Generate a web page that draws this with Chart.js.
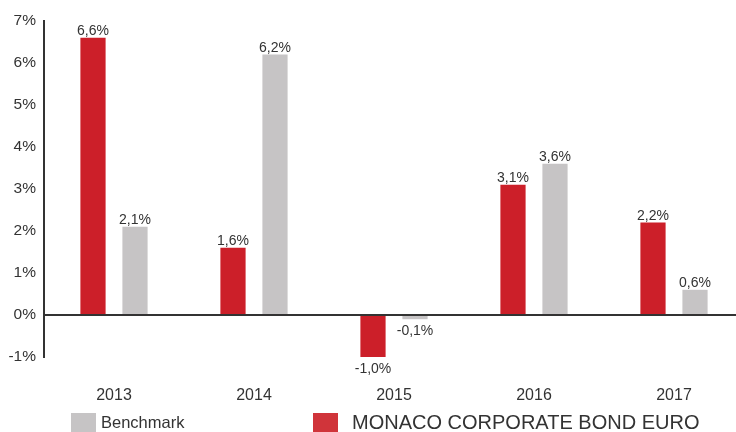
<!DOCTYPE html>
<html>
<head>
<meta charset="utf-8">
<script src="https://cdn.jsdelivr.net/npm/chart.js@4/dist/chart.umd.min.js"></script>
<style>
  html, body { margin: 0; padding: 0; background: #fff; overflow: hidden; }
  #wrap { width: 736px; height: 432px; overflow: hidden; }
</style>
</head>
<body>
<div id="wrap"><canvas id="chart" width="745" height="432"></canvas></div>
<script>
const years = ["2013", "2014", "2015", "2016", "2017"];
const fundValues = [6.6, 1.6, -1.0, 3.1, 2.2];
const benchmarkValues = [2.1, 6.2, -0.1, 3.6, 0.6];
const yTicks = [-1, 0, 1, 2, 3, 4, 5, 6, 7];

const RED = "#cc1f29";
const GRAY = "#c6c4c5";
const TEXT = "#333333";
const FONT = "'Liberation Sans', Arial, sans-serif";

// formats 6.6 -> "6,6%"
function fmt(v) {
    return v.toFixed(1).replace(".", ",") + "%";
}

// value labels above / below bars
const valueLabels = {
    id: "valueLabels",
    afterDatasetsDraw(chart) {
        const ctx = chart.ctx;
        ctx.save();
        ctx.font = "14px " + FONT;
        ctx.fillStyle = TEXT;
        ctx.textAlign = "center";
        chart.data.datasets.forEach((ds, i) => {
            const meta = chart.getDatasetMeta(i);
            meta.data.forEach((bar, j) => {
                const v = ds.data[j];
                if (v >= 0) {
                    ctx.textBaseline = "alphabetic";
                    ctx.fillText(fmt(v), bar.x, bar.y - 3);
                } else {
                    ctx.textBaseline = "top";
                    ctx.fillText(fmt(v), bar.x, bar.y + 5);
                }
            });
        });
        ctx.restore();
    },
};

// bottom legend, benchmark first, fund name larger
const bottomLegend = {
    id: "bottomLegend",
    afterDraw(chart) {
        const ctx = chart.ctx;
        const ds = chart.data.datasets;
        const items = [
            { label: ds[1].label, color: GRAY, x: 71, size: 16.5, gap: 30 },
            { label: ds[0].label, color: "#d0343a", x: 313, size: 20, gap: 39 },
        ];
        ctx.save();
        ctx.textBaseline = "middle";
        ctx.textAlign = "left";
        items.forEach((it) => {
            ctx.fillStyle = it.color;
            ctx.fillRect(it.x, 413, 25, 20);
            ctx.fillStyle = TEXT;
            ctx.font = it.size + "px " + FONT;
            ctx.fillText(it.label, it.x + it.gap, 423);
        });
        ctx.restore();
    },
};

new Chart(document.getElementById("chart"), {
    type: "bar",
    data: {
        labels: years,
        datasets: [
            {
                label: "MONACO CORPORATE BOND EURO",
                data: fundValues,
                backgroundColor: RED,
                categoryPercentage: 0.6,
                barPercentage: 0.6,
            },
            {
                label: "Benchmark",
                data: benchmarkValues,
                backgroundColor: GRAY,
                categoryPercentage: 0.6,
                barPercentage: 0.6,
            },
        ],
    },
    options: {
        responsive: false,
        devicePixelRatio: 1,
        animation: false,
        layout: { padding: { top: 21, right: 1, left: 0, bottom: 0 } },
        plugins: {
            legend: { display: false },
            tooltip: { enabled: false },
        },
        scales: {
            x: {
                grid: { display: false, drawTicks: false },
                border: { display: false },
                ticks: {
                    color: TEXT,
                    font: { family: FONT, size: 16 },
                    padding: 29,
                },
                afterFit: (scale) => { scale.height = 75; },
            },
            y: {
                min: -1,
                max: 7,
                afterBuildTicks: (scale) => {
                    scale.ticks = yTicks.map((v) => ({ value: v }));
                },
                grid: {
                    drawTicks: false,
                    color: (c) => (c.tick && c.tick.value === 0 ? "#333333" : "rgba(0,0,0,0)"),
                    lineWidth: 2,
                },
                border: { display: true, color: "#333333", width: 2 },
                ticks: {
                    color: TEXT,
                    font: { family: FONT, size: 15.5 },
                    padding: 8,
                    callback: (v) => v + "%",
                },
                afterFit: (scale) => { scale.width = 44; },
            },
        },
    },
    plugins: [valueLabels, bottomLegend],
});
</script>
</body>
</html>
